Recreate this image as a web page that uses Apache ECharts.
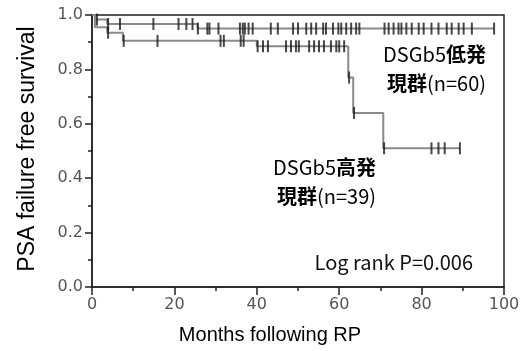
<!DOCTYPE html>
<html><head><meta charset="utf-8">
<script src="https://cdn.jsdelivr.net/npm/echarts@6/dist/echarts.min.js"></script>
<style>html,body{margin:0;padding:0;background:#fff}#c{width:530px;height:351px}</style>
</head><body><div id="c"></div>
<script>
// Kaplan-Meier step data (time in months, survival)
const lowTimes = [0, 0.7, 3.7, 25.6, 97.6];
const lowSurv  = [1, 0.983, 0.967, 0.95, 0.95];
const highTimes = [0, 0.7, 3.7, 7.5, 40, 62.2, 63.4, 70.7, 89.3];
const highSurv  = [1, 0.955, 0.935, 0.905, 0.885, 0.77, 0.64, 0.51, 0.51];
// censoring times
const lowCensor = [1.2, 3.9, 6.8, 14.9, 21, 22.9, 24.4, 25.7, 28, 28.5, 30.7, 35.9, 36.6, 37.1, 38, 39, 43.4, 45.1, 48.8, 50, 52, 53.2, 54.4, 56.1, 56.8, 58.5, 59.8, 60.5, 61.7, 62.9, 64.1, 64.9, 71, 72, 73.2, 74.4, 75.1, 76.3, 77.6, 79.3, 80.5, 82.4, 84.1, 86.1, 87.3, 89, 90.2, 92.2, 97.6];
const highCensor = [3.9, 7.7, 15.9, 31.2, 32, 36.1, 36.8, 40.2, 41.5, 42.7, 47.1, 48.3, 49.5, 50.2, 52.7, 53.9, 55.1, 56.3, 58, 59.3, 60, 61.2, 62.4, 63.6, 70.9, 82.4, 84.1, 85.6, 89.3];
// tick labels
const xTickLabels = ['0', '20', '40', '60', '80', '100'];
const yTickLabels = ['0.0', '0.2', '0.4', '0.6', '0.8', '1.0'];
// texts
const xTitle = 'Months following RP';
const yTitle = 'PSA failure free survival';
const lowLabel1 = ['DSGb5', '低発'];
const lowLabel2 = ['現群', '(n=60)'];
const highLabel1 = ['DSGb5', '高発'];
const highLabel2 = ['現群', '(n=39)'];
const pText = 'Log rank P=0.006';

function survAt(times, surv, t) {
  let s = surv[0];
  for (let i = 0; i < times.length; i++) if (times[i] <= t) s = surv[i];
  return s;
}
const chart = echarts.init(document.getElementById('c'), null, {renderer: 'canvas'});
const axisColor = '#222';
const lineColor = '#8a8a8a';
const tickColor = '#1a1a1a';
const annFont = '"Noto Sans CJK JP", "Noto Sans", sans-serif';
const rich = {
  l: {fontFamily: annFont, fontSize: 20, color: '#111'},
  c: {fontFamily: annFont, fontSize: 20, fontWeight: 'bold', color: '#111'}
};
function annText(x, y, parts, cjkFirst) {
  const t = cjkFirst ? '{c|' + parts[0] + '}{l|' + parts[1] + '}' : '{l|' + parts[0] + '}{c|' + parts[1] + '}';
  return {type: 'text', x: x, y: y, z: 100, style: {text: t, rich: rich, align: 'right', verticalAlign: 'middle'}};
}
const option = {
  animation: false,
  backgroundColor: '#fff',
  grid: {left: 92, right: 26, top: 15, bottom: 64, show: true, borderColor: axisColor, borderWidth: 1.5, backgroundColor: 'transparent'},
  xAxis: {
    type: 'value', min: 0, max: 100, interval: 20,
    axisLine: {lineStyle: {color: axisColor, width: 1.5}},
    axisTick: {length: 8, lineStyle: {color: axisColor, width: 1.5}},
    minorTick: {show: true, splitNumber: 2, length: 4, lineStyle: {color: axisColor, width: 1.5}},
    splitLine: {show: false},
    axisLabel: {margin: 10, color: '#555', fontFamily: 'DejaVu Sans', fontSize: 16,
      formatter: v => xTickLabels[Math.round(v / 20)]}
  },
  yAxis: {
    type: 'value', min: 0, max: 1, interval: 0.2,
    axisLine: {show: true, lineStyle: {color: axisColor, width: 1.5}},
    axisTick: {show: true, length: 7, lineStyle: {color: axisColor, width: 1.5}},
    minorTick: {show: true, splitNumber: 2, length: 4, lineStyle: {color: axisColor, width: 1.5}},
    splitLine: {show: false},
    axisLabel: {margin: 9, color: '#555', fontFamily: 'DejaVu Sans', fontSize: 16,
      formatter: v => yTickLabels[Math.round(v / 0.2)]}
  },
  series: [
    {type: 'line', step: 'end', symbol: 'none', z: 2,
     lineStyle: {color: lineColor, width: 2},
     data: lowTimes.map((t, i) => [t, lowSurv[i]])},
    {type: 'line', step: 'end', symbol: 'none', z: 2,
     lineStyle: {color: lineColor, width: 2},
     data: highTimes.map((t, i) => [t, highSurv[i]])},
    {type: 'scatter', symbol: 'rect', symbolSize: [2, 12], z: 3,
     itemStyle: {color: tickColor},
     data: lowCensor.map(t => [t, survAt(lowTimes, lowSurv, t)])},
    {type: 'scatter', symbol: 'rect', symbolSize: [2, 12], z: 3,
     itemStyle: {color: tickColor},
     data: highCensor.map(t => [t, survAt(highTimes, highSurv, t)])}
  ],
  graphic: [
    {type: 'text', x: 270, y: 335, style: {text: xTitle, font: '20px "Liberation Sans", Arial, sans-serif', fill: '#000', align: 'center', verticalAlign: 'middle'}},
    {type: 'text', x: 28, y: 149, rotation: Math.PI / 2, style: {text: yTitle, font: '23px "Liberation Sans", Arial, sans-serif', fill: '#000', align: 'center', verticalAlign: 'middle'}},
    annText(486, 54, lowLabel1, false),
    annText(486, 83, lowLabel2, true),
    annText(376, 167, highLabel1, false),
    annText(376, 196, highLabel2, true),
    {type: 'text', x: 473, y: 262, style: {text: pText, font: '20px "Noto Sans CJK JP", "Noto Sans", sans-serif', fill: '#111', align: 'right', verticalAlign: 'middle'}}
  ]
};
chart.setOption(option);
</script>
</body></html>
